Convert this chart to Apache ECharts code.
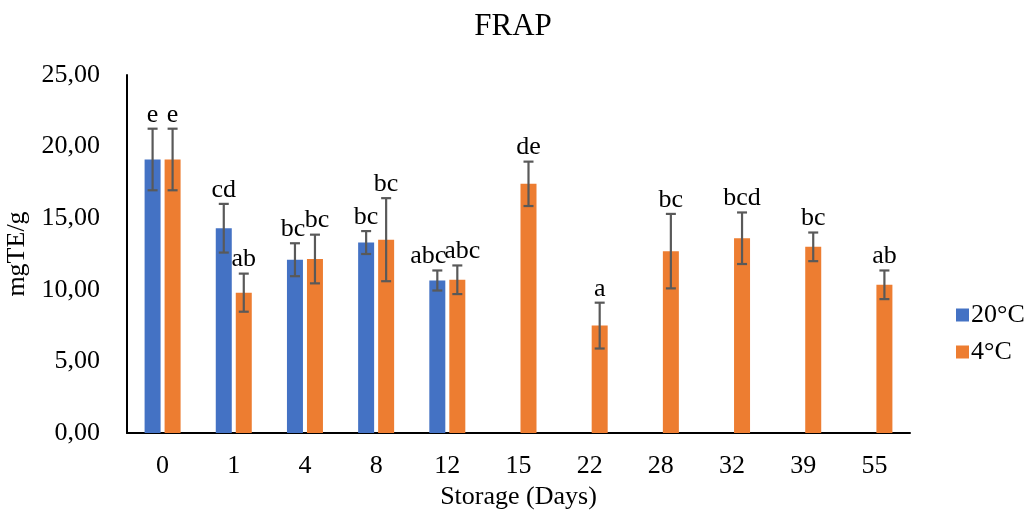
<!DOCTYPE html>
<html>
<head>
<meta charset="utf-8">
<script src="https://cdn.jsdelivr.net/npm/echarts@6/dist/echarts.min.js"></script>
<style>
  html, body { margin: 0; padding: 0; background: #fff; }
  #chart { width: 1026px; height: 518px; }
</style>
</head>
<body>
<div id="chart"></div>
<script>
// Storage days on the x axis
const categories = ['0', '1', '4', '8', '12', '15', '22', '28', '32', '39', '55'];

// FRAP means (mgTE/g) and standard deviations for each storage temperature
const mean20 = [19.1, 14.3, 12.1, 13.3, 10.65, null, null, null, null, null, null];
const sd20   = [2.15, 1.7, 1.15, 0.8, 0.7, null, null, null, null, null, null];
const mean4  = [19.1, 9.8, 12.15, 13.5, 10.7, 17.4, 7.5, 12.7, 13.6, 13.0, 10.35];
const sd4    = [2.15, 1.33, 1.7, 2.9, 1.0, 1.55, 1.6, 2.6, 1.8, 1.0, 1.0];

// Significance letters drawn above each error bar
const letters20 = ['e', 'cd', 'bc', 'bc', 'abc', '', '', '', '', '', ''];
const letters4  = ['e', 'ab', 'bc', 'bc', 'abc', 'de', 'a', 'bc', 'bcd', 'bc', 'ab'];

const seriesNames = ['20°C', '4°C'];
const yTicks = { min: 0, max: 25, interval: 5 };

const FONT = '"Liberation Serif", "Times New Roman", serif';
const BLUE = '#4472C4';
const ORANGE = '#ED7D31';
const ERR = '#595959';
const BAR_W = 16;
const BAR_GAP_PX = 4;
const TXT = 26;

// small horizontal nudges so neighbouring letter labels do not collide
const nudge20 = { 2: -2, 4: -9 };
const nudge4  = { 2: 2, 4: 5 };

function errData(means, sds) {
  const out = [];
  means.forEach((m, i) => {
    if (m !== null) out.push([i, m, sds[i]]);
  });
  return out;
}

function errSeries(means, sds, letters, offset, nudge) {
  return {
    type: 'custom',
    data: errData(means, sds),
    z: 5,
    silent: true,
    renderItem: function (params, api) {
      const idx = api.value(0);
      const m = api.value(1);
      const s = api.value(2);
      const top = api.coord([idx, m + s]);
      const bot = api.coord([idx, m - s]);
      const x = top[0] + offset;
      const cap = 5;
      const style = { stroke: ERR, lineWidth: 2.2 };
      return {
        type: 'group',
        children: [
          { type: 'line', shape: { x1: x, y1: top[1], x2: x, y2: bot[1] }, style: style },
          { type: 'line', shape: { x1: x - cap, y1: top[1], x2: x + cap, y2: top[1] }, style: style },
          { type: 'line', shape: { x1: x - cap, y1: bot[1], x2: x + cap, y2: bot[1] }, style: style },
          {
            type: 'text',
            style: {
              text: letters[idx],
              x: x + (nudge[idx] || 0),
              y: top[1] - 1,
              align: 'center',
              verticalAlign: 'bottom',
              fontFamily: FONT,
              fontSize: TXT,
              fill: '#000'
            }
          }
        ]
      };
    }
  };
}

const chart = echarts.init(document.getElementById('chart'), null, { renderer: 'canvas' });
const half = (BAR_W + BAR_GAP_PX) / 2;

chart.setOption({
  animation: false,
  backgroundColor: '#fff',
  title: {
    text: 'FRAP',
    left: 'center',
    top: 6,
    textStyle: { fontFamily: FONT, fontWeight: 'normal', fontSize: 31, color: '#000' }
  },
  legend: {
    orient: 'vertical',
    left: 951,
    top: 297,
    itemWidth: 13,
    itemHeight: 13,
    itemGap: 11,
    icon: 'rect',
    data: seriesNames,
    textStyle: { fontFamily: FONT, fontSize: TXT, color: '#000', padding: [0, 0, 0, -3] }
  },
  grid: { left: 127, right: 116, top: 75, bottom: 85, containLabel: false, outerBoundsMode: 'none' },
  xAxis: {
    type: 'category',
    data: categories,
    name: 'Storage (Days)',
    nameLocation: 'middle',
    nameGap: 50,
    nameTextStyle: { fontFamily: FONT, fontSize: TXT, color: '#000' },
    axisLine: { lineStyle: { color: '#000', width: 2 } },
    axisTick: { show: false },
    axisLabel: { fontFamily: FONT, fontSize: TXT, color: '#000', margin: 20 }
  },
  yAxis: {
    type: 'value',
    min: yTicks.min,
    max: yTicks.max,
    interval: yTicks.interval,
    name: 'mgTE/g',
    nameLocation: 'middle',
    nameGap: 95,
    nameRotate: 90,
    nameTextStyle: { fontFamily: FONT, fontSize: TXT, color: '#000' },
    axisLine: { show: true, lineStyle: { color: '#000', width: 2 } },
    axisTick: { show: false },
    splitLine: { show: false },
    axisLabel: {
      fontFamily: FONT,
      fontSize: TXT,
      color: '#000',
      margin: 27,
      formatter: v => v.toFixed(2).replace('.', ',')
    }
  },
  series: [
    {
      name: seriesNames[0],
      type: 'bar',
      data: mean20,
      barWidth: BAR_W,
      barGap: (BAR_GAP_PX / BAR_W * 100) + '%',
      itemStyle: { color: BLUE }
    },
    {
      name: seriesNames[1],
      type: 'bar',
      data: mean4,
      barWidth: BAR_W,
      itemStyle: { color: ORANGE }
    },
    errSeries(mean20, sd20, letters20, -half, nudge20),
    errSeries(mean4, sd4, letters4, half, nudge4)
  ]
});
</script>
</body>
</html>
